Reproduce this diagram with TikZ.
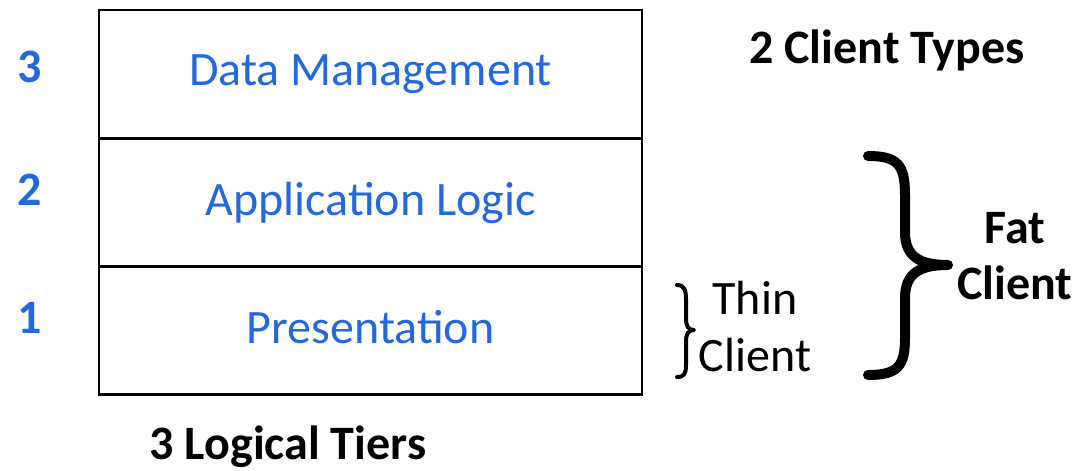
\documentclass[tikz,border=0pt]{standalone}
\usepackage{fontspec}
\setmainfont{Carlito}
\definecolor{tierblue}{RGB}{35,104,222}
\begin{document}
\begin{tikzpicture}[x=1pt,y=-1pt,
  tier/.style={draw=black,line width=2.5pt,minimum width=543pt,minimum height=128pt,inner sep=0pt,
    text depth=7pt,text=tierblue,font=\fontsize{48}{56}\selectfont},
  num/.style={text=tierblue,font=\fontsize{48}{56}\selectfont\bfseries},
  lbl/.style={font=\fontsize{48}{56}\selectfont},
  blbl/.style={font=\fontsize{48}{56}\selectfont\bfseries},
  brace/.style={line width=#1,line cap=round,line join=round}]
\useasboundingbox (0,0) rectangle (1077,471);
\node[tier] (data) at (370.5,74) {Data Management};
\node[tier] (app) at (370.5,202.5) {Application Logic};
\node[tier] (pres) at (370.5,330.5) {Presentation};
\node[num] (n3) at (30,67) {3};
\node[num] (n2) at (30,190) {2};
\node[num] (n1) at (30,318) {1};
\node[blbl] (types) at (887,50) {2 Client Types};
\node[blbl] (tiers) at (288,447) {3 Logical Tiers};
\node[lbl] (thin) at (755,298) {Thin};
\node[lbl] (thinc) at (755,355) {Client};
\node[blbl] (fat) at (1015,228) {Fat};
\node[blbl] (fatc) at (1015,283) {Client};
% thin brace
\draw[brace=4pt] (677,285) .. controls (684,285) and (686,290) .. (686,299) -- (686,318)
  .. controls (686,326) and (688,330) .. (694,330)
  .. controls (688,330) and (686,334) .. (686,342) -- (686,365)
  .. controls (686,374) and (684,377) .. (677,377);
% fat brace
\draw[brace=10pt] (868,156) .. controls (898,156) and (905,165) .. (905,195) -- (905,232)
  .. controls (905,257) and (920,265) .. (948,265)
  .. controls (920,265) and (905,273) .. (905,298) -- (905,338)
  .. controls (905,366) and (898,375) .. (868,375);
\end{tikzpicture}
\end{document}
